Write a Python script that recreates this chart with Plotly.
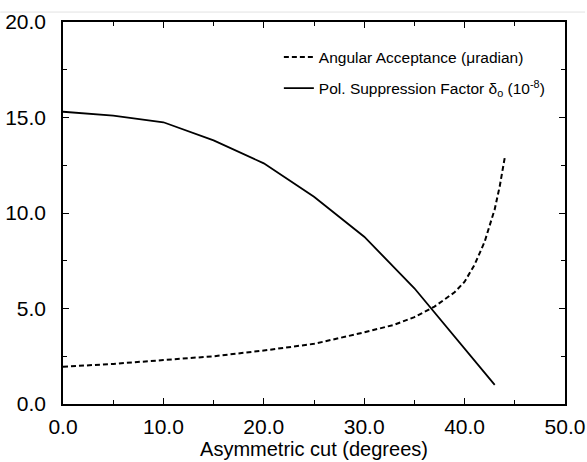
import plotly.graph_objects as go

# Angular acceptance (dashed)
acc_x = [0, 5, 10, 15, 20, 25, 30, 33, 35, 37, 39, 40, 41, 42, 43, 43.5, 44]
acc_y = [1.95, 2.1, 2.3, 2.5, 2.8, 3.15, 3.75, 4.15, 4.55, 5.1, 5.85, 6.4, 7.3, 8.5, 10.2, 11.4, 12.9]

# Polarization suppression factor (solid)
pol_x = [0, 5, 10, 15, 20, 25, 30, 35, 43]
pol_y = [15.3, 15.1, 14.75, 13.8, 12.6, 10.85, 8.76, 6.06, 1.0]

x_ticks = [0, 10, 20, 30, 40, 50]
y_ticks = [0, 5, 10, 15, 20]

FONT = "Liberation Sans, Arial, Helvetica, sans-serif"

fig = go.Figure()
fig.add_trace(go.Scatter(
    x=acc_x, y=acc_y, mode="lines", legendgroup="a",
    line=dict(color="black", width=2, dash="5px,3px"),
    name="Angular Acceptance (\u03bcradian)",
))
fig.add_trace(go.Scatter(
    x=pol_x, y=pol_y, mode="lines", legendgroup="b",
    line=dict(color="black", width=1.8),
    name="Pol. Suppression Factor \u03b4<sub>o</sub> (10<sup>-8</sup>)",
))

axis_common = dict(
    showline=True, linecolor="black", linewidth=1.5, mirror="ticks",
    ticks="inside", ticklen=6, tickwidth=1, tickcolor="black",
    showgrid=False, zeroline=False, automargin=False,
    tickfont=dict(family=FONT, size=21, color="black"),
    tickformat=".1f",
)

fig.update_xaxes(
    range=[0, 50], tickvals=x_ticks, ticklabelstandoff=3,
    minor=dict(dtick=5, ticks="inside", ticklen=4, tickcolor="black", showgrid=False),
    title=dict(text="Asymmetric cut (degrees)", font=dict(family=FONT, size=20, color="black"), standoff=2),
    **axis_common,
)
fig.update_yaxes(
    range=[0, 20], tickvals=y_ticks, ticklabelstandoff=11,
    minor=dict(dtick=2.5, ticks="inside", ticklen=4, tickcolor="black", showgrid=False),
    **axis_common,
)

fig.add_shape(type="line", xref="paper", yref="paper",
              x0=-0.125, x1=1.04, y0=1.026, y1=1.026,
              line=dict(color="#e2e2e2", width=1))

fig.update_layout(
    width=587, height=462,
    margin=dict(l=63, r=22, t=22, b=58),
    paper_bgcolor="white", plot_bgcolor="white",
    font=dict(family=FONT, color="black"),
    legend=dict(
        x=0.43, y=0.952, xanchor="left", yanchor="top",
        bgcolor="rgba(0,0,0,0)", borderwidth=0,
        font=dict(family=FONT, size=15.5, color="black"),
        tracegroupgap=8, itemwidth=30,
    ),
    showlegend=True,
)

fig.write_html(
    "out.html",
    config={"displayModeBar": False},
    post_script="document.body.style.margin='0';document.body.style.overflow='hidden';",
)
